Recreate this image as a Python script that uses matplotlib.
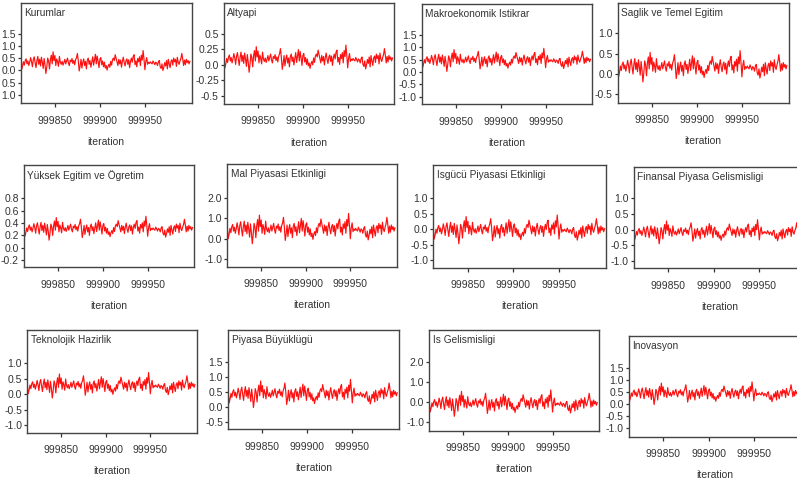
import numpy as np
import matplotlib
matplotlib.use("Agg")
import matplotlib.pyplot as plt
from matplotlib.ticker import FixedLocator, FixedFormatter

plt.rcParams['font.family'] = ['Liberation Sans', 'DejaVu Sans']

# last iterations of the chain (in sd units);
# every other panel shows the same wiggle, only shifted and stretched
trace_shape = [
    1.2, 0.4, -1.6, -0.8, 0.3, -0.5, 0.6, 1.0, -0.2, 0.5,
    -0.6, 0.2, 1.3, 0.4, -0.9, 0.8, 1.5, 0.1, -1.1, 0.6,
    1.6, -0.3, 0.9, -0.7, 1.4, 0.2, -1.3, 1.1, -0.4, -2.5,
    -0.9, 1.2, 0.5, -1.4, 0.8, 1.9, -0.2, 2.7, 0.6, 1.8,
    -0.6, 1.0, 0.3, -0.8, 1.6, 0.2, -0.3, 0.4, -0.5, 0.1,
    0.9, -0.2, 0.5, 1.2, 0.0, -0.6, 0.7, 0.3, 1.1, -0.1,
    0.6, -0.4, 0.8, 1.3, 2.3, 0.5, -1.9, -0.7, 0.9, -1.2,
    0.2, 1.0, -0.6, 0.4, -1.4, 0.7, 1.2, -0.3, 0.6, -1.0,
    0.3, 1.5, -0.5, 0.8, 2.1, -0.2, 1.7, 0.4, -1.1, 0.9,
    1.3, -0.4, 0.5, -0.9, 0.2, -1.2, -0.6, -1.7, -0.8, -0.3,
    -1.0, 0.4, -0.5, 0.8, 1.2, 0.6, 2.0, 1.1, 0.3, -0.6,
    0.9, -0.2, 0.7, -1.0, 0.5, 1.4, 0.1, -0.7, 0.6, 1.0,
    -0.3, 0.8, -1.1, 0.4, 1.2, 0.2, 1.6, 2.0, -0.4, 0.5,
    -0.9, 1.1, 0.3, 1.5, -0.6, 1.9, 0.7, 3.0, 0.9, -1.6,
    0.4, 1.3, -0.3, 0.2, -0.1, 0.3, 0.0, -0.2, 0.5, 0.1,
    -0.4, 0.2, 0.0, -0.6, 0.3, 0.6, -0.9, -1.3, -0.2, -1.8,
    -1.0, 0.1, -0.7, 0.6, -1.4, 0.9, -0.2, -1.1, 0.4, 0.8,
    -0.5, 1.2, 0.3, 0.9, -0.8, 1.4, 0.2, -0.3, 0.5, 1.1,
    2.3, 1.0, -0.6, 0.7, -0.4, 0.9, 0.1, 0.6, -0.2, 0.4,
]
first_iter = 999811

names = ["Kurumlar", "Altyapi", "Makroekonomik Istikrar", "Saglik ve Temel Egitim",
         "Yüksek Egitim ve Ögretim", "Mal Piyasasi Etkinligi", "Isgücü Piyasasi Etkinligi",
         "Finansal Piyasa Gelismisligi", "Teknolojik Hazirlik", "Piyasa Büyüklügü",
         "Is Gelismisligi", "Inovasyon"]
centre = [0.30, 0.08, 0.45, 0.15, 0.30, 0.42, -0.05, -0.10, 0.25, 0.40, -0.10, 0.40]
spread = [0.17, 0.08, 0.17, 0.14, 0.07, 0.27, 0.17, 0.14, 0.15, 0.17, 0.24, 0.17]

yticks = [
    [-1.0, -0.5, 0.0, 0.5, 1.0, 1.5],
    [-0.5, -0.25, 0.0, 0.25, 0.5],
    [-1.0, -0.5, 0.0, 0.5, 1.0, 1.5],
    [-0.5, 0.0, 0.5, 1.0],
    [-0.2, 0.0, 0.2, 0.4, 0.6, 0.8],
    [-1.0, 0.0, 1.0, 2.0],
    [-1.0, -0.5, 0.0, 0.5, 1.0],
    [-1.0, -0.5, 0.0, 0.5, 1.0],
    [-1.0, -0.5, 0.0, 0.5, 1.0],
    [-0.5, 0.0, 0.5, 1.0, 1.5],
    [-1.0, 0.0, 1.0, 2.0],
    [-1.0, -0.5, 0.0, 0.5, 1.0, 1.5],
]
# first panel lost its minus signs in the original
ytick_labels = [["1.0", "0.5", "0.0", "0.5", "1.0", "1.5"],
                ["-0.5", "-0.25", "0.0", "0.25", "0.5"]] + \
               [["%.1f" % t for t in ticks] for ticks in yticks[2:]]
xticks = [999850, 999900, 999950]

# layout: axes boxes in pixels (left, right, top, bottom) and y ranges
boxes = [
    (20.7, 191.7, 3.0, 103.0), (224.0, 394.3, 3.3, 104.0),
    (421.7, 592.3, 4.0, 104.3), (617.7, 788.7, 2.7, 102.7),
    (24.0, 194.3, 165.0, 267.3), (227.3, 396.7, 164.3, 266.7),
    (433.3, 606.4, 165.0, 267.7), (633.7, 806.7, 167.3, 268.3),
    (27.3, 196.7, 330.0, 432.7), (228.3, 399.0, 330.0, 429.3),
    (429.3, 599.0, 330.0, 430.7), (628.7, 801.0, 336.0, 436.7),
]
ylims = [(-1.33, 2.75), (-0.635, 1.0), (-1.31, 2.76), (-0.71, 1.75),
         (-0.313, 1.337), (-1.38, 3.64), (-1.25, 2.08), (-1.23, 1.99),
         (-1.25, 2.08), (-0.75, 2.56), (-1.42, 3.62), (-1.35, 2.80)]

W, H = 797, 486
fig = plt.figure(figsize=(W / 100, H / 100), dpi=100)
text_col = "#333333"

shape = np.array(trace_shape)
iters = first_iter + np.arange(len(shape))

for k in range(len(names)):
    x0, x1, yt, yb = boxes[k]
    ax = fig.add_axes([x0 / W, (H - yb) / H, (x1 - x0) / W, (yb - yt) / H])
    ax.plot(iters, centre[k] + spread[k] * shape, color="#ff1010", lw=0.85)
    ax.set_xlim(999812, 1000002)
    ax.set_ylim(*ylims[k])
    ax.xaxis.set_major_locator(FixedLocator(xticks))
    ax.xaxis.set_major_formatter(FixedFormatter([str(t) for t in xticks]))
    ax.yaxis.set_major_locator(FixedLocator(yticks[k]))
    ax.yaxis.set_major_formatter(FixedFormatter(ytick_labels[k]))
    ax.tick_params(axis="x", length=3, width=0.9, pad=6, labelsize=7.5,
                   colors=text_col)
    ax.tick_params(axis="y", length=2.5, width=0.9, pad=1.2, labelsize=7.5,
                   colors=text_col)
    for sp in ax.spines.values():
        sp.set_color("#444444")
        sp.set_linewidth(1.0)
    ax.set_xlabel("iteration", fontsize=7.5, color=text_col, labelpad=8)
    ax.text(0.02, 0.95, names[k], transform=ax.transAxes, ha="left", va="top",
            fontsize=7.3, color=text_col)

fig.savefig("out.png", dpi=100)
